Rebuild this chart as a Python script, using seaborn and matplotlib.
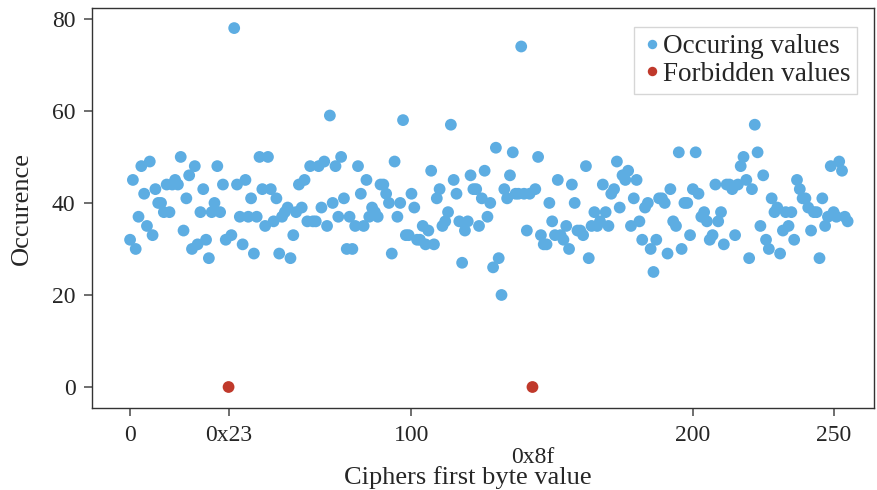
import numpy as np
import pandas as pd
import seaborn as sns
import matplotlib.pyplot as plt

# occurrences of each first byte value (0..255); 0x23 and 0x8f never occur
counts = [
    32, 45, 30, 37, 48, 42, 35, 49, 33, 43, 40, 40, 38, 44, 38, 44,
    45, 44, 50, 34, 41, 46, 30, 48, 31, 38, 43, 32, 28, 38, 40, 48,
    38, 44, 32, 0, 33, 78, 44, 37, 31, 45, 37, 41, 29, 37, 50, 43,
    35, 50, 43, 36, 41, 29, 37, 38, 39, 28, 33, 38, 44, 39, 45, 36,
    48, 36, 36, 48, 39, 49, 35, 59, 40, 48, 37, 50, 41, 30, 37, 30,
    35, 48, 42, 35, 45, 37, 39, 38, 37, 44, 44, 42, 40, 29, 49, 37,
    40, 58, 33, 33, 42, 39, 32, 32, 35, 31, 34, 47, 31, 41, 43, 35,
    36, 38, 57, 45, 42, 36, 27, 34, 36, 46, 43, 43, 35, 41, 47, 37,
    40, 26, 52, 28, 20, 43, 41, 46, 51, 42, 42, 74, 42, 34, 42, 0,
    43, 50, 33, 31, 31, 40, 36, 33, 45, 33, 32, 35, 30, 44, 40, 34,
    34, 33, 48, 28, 35, 38, 35, 36, 44, 38, 35, 42, 43, 49, 39, 46,
    45, 47, 35, 41, 45, 36, 32, 39, 40, 30, 25, 32, 41, 41, 40, 29,
    43, 36, 35, 51, 30, 40, 40, 33, 43, 51, 42, 37, 38, 36, 32, 33,
    44, 36, 38, 31, 44, 44, 43, 33, 44, 48, 50, 45, 28, 43, 57, 51,
    35, 46, 32, 30, 41, 38, 39, 29, 34, 38, 35, 38, 32, 45, 43, 41,
    41, 39, 34, 38, 38, 28, 41, 35, 37, 48, 38, 37, 49, 47, 37, 36,
]
forbidden = [0x23, 0x8f]
xtick_vals = [0, 0x23, 100, 200, 250]
xtick_labels = ['0', '0x23', '100', '200', '250']

df = pd.DataFrame({'byte': np.arange(256), 'count': counts})
df['kind'] = np.where(df['byte'].isin(forbidden), 'Forbidden values', 'Occuring values')

sns.set_style('white')
plt.rcParams['font.family'] = ['Liberation Serif', 'DejaVu Serif']

fig = plt.figure(figsize=(8.77, 4.9), dpi=100)
ax = fig.add_axes([0.105, 0.167, 0.892, 0.817])

sns.scatterplot(data=df, x='byte', y='count', hue='kind',
                hue_order=['Occuring values', 'Forbidden values'],
                palette={'Occuring values': '#5dade2', 'Forbidden values': '#c0392b'},
                s=72, linewidth=0, ax=ax, zorder=3)

ax.set_xlim(-13.5, 264.5)
ax.set_ylim(-4.6, 82.4)
ax.set_xticks(xtick_vals, xtick_labels)
ax.set_xticks([0x8f], ['0x8f'], minor=True)
ax.set_yticks([0, 20, 40, 60, 80])
ax.tick_params(axis='both', which='both', direction='out', length=6, width=1.2,
               color='#555555', labelsize=17, pad=6)
ax.tick_params(axis='x', which='minor', pad=22)
ax.tick_params(axis='both', which='major', bottom=True, left=True)

for sp in ax.spines.values():
    sp.set_color('#333333')
    sp.set_linewidth(1.0)

ax.set_xlabel('Ciphers first byte value', fontsize=19)
ax.xaxis.set_label_coords(0.48, -0.145)
ax.set_ylabel('Occurence', fontsize=19)
ax.yaxis.set_label_coords(-0.076, 0.5)

leg = ax.legend(loc='upper right', fontsize=19.5, frameon=True, fancybox=False,
                edgecolor='#cccccc', markerscale=0.8, handletextpad=0.0,
                handlelength=0.8, borderpad=0.25, labelspacing=0.1,
                bbox_to_anchor=(0.995, 0.985))
leg.get_frame().set_linewidth(1.0)

fig.savefig('out.png', dpi=100)
